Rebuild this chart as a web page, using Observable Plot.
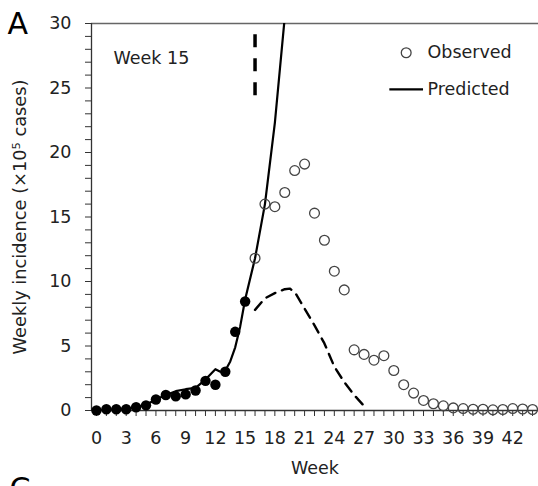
<!DOCTYPE html>
<html>
<head>
<meta charset="utf-8">
<script src="https://cdn.jsdelivr.net/npm/d3@7"></script>
<script src="https://cdn.jsdelivr.net/npm/@observablehq/plot@0.6"></script>
<style>
  html, body { margin: 0; padding: 0; background: #fff; }
  #chart { width: 538px; height: 486px; overflow: hidden; }
</style>
</head>
<body>
<div id="chart"></div>
<script>
// Observed weekly incidence (x10^5 cases) used for fitting: weeks 0-15
const fitWeeks = [0, 1, 2, 3, 4, 5, 6, 7, 8, 9, 10, 11, 12, 13, 14, 15];
const fitCases = [0.0, 0.1, 0.1, 0.1, 0.25, 0.4, 0.85, 1.2, 1.1, 1.25, 1.55, 2.3, 2.0, 3.0, 6.1, 8.45];

// Observed weekly incidence after the fitting window: weeks 16-44
const laterWeeks = [16, 17, 18, 19, 20, 21, 22, 23, 24, 25, 26, 27, 28, 29, 30,
  31, 32, 33, 34, 35, 36, 37, 38, 39, 40, 41, 42, 43, 44];
const laterCases = [11.8, 16.0, 15.8, 16.9, 18.6, 19.1, 15.3, 13.2, 10.8, 9.35, 4.7, 4.35, 3.9, 4.25, 3.1,
  2.0, 1.35, 0.78, 0.52, 0.36, 0.2, 0.15, 0.1, 0.1, 0.05, 0.08, 0.15, 0.12, 0.08];

// Model prediction, fitted curve (solid)
const fitLineWeeks = [0, 1, 2, 3, 4, 5, 6, 7, 8, 9, 10, 11, 12, 12.5, 13, 13.5, 14, 14.5, 15, 16, 17, 18, 19];
const fitLineCases = [0.0, 0.05, 0.1, 0.15, 0.25, 0.45, 0.85, 1.2, 1.5, 1.65, 1.75, 2.4, 3.2, 3.0, 3.1, 3.8, 4.9, 6.5, 8.6, 11.8, 16.0, 22.3, 30.5];

// Model prediction, forecast curve (dashed)
const forecastWeeks = [16, 17, 18, 19, 19.5, 20, 21, 22, 23, 24, 25, 26, 27, 27.2];
const forecastCases = [7.8, 8.7, 9.1, 9.4, 9.45, 9.2, 7.9, 6.6, 5.2, 3.4, 2.2, 1.2, 0.35, 0.15];

// Week at which the forecast is made, and its marker span on the y scale
const cutWeek = 16;
const cutSpan = [24.4, 29.6];

// Axis ticks
const xTicks = d3.range(0, 45);
const yTicks = d3.range(0, 31);

// Legend entries
const legendSymbolX = 31.25;
const legendLine = [29.6, 33.0];
const legendTextX = 33.4;
const legendY = [27.73, 24.9];
const legendLabels = ["Observed", "Predicted"];

const fit = fitWeeks.map((w, i) => ({week: w, cases: fitCases[i]}));
const later = laterWeeks.map((w, i) => ({week: w, cases: laterCases[i]}));
const fitLine = fitLineWeeks.map((w, i) => ({week: w, cases: fitLineCases[i]}));
const forecast = forecastWeeks.map((w, i) => ({week: w, cases: forecastCases[i]}));

const font = "DejaVu Sans, sans-serif";
const ink = "#222";

const chart = Plot.plot({
  width: 538,
  height: 486,
  marginLeft: 91,
  marginRight: 0,
  marginTop: 23,
  marginBottom: 76,
  style: {fontFamily: font, fontSize: "17.5px", color: ink, background: "#fff"},
  x: {domain: [-0.5, 44.6]},
  y: {domain: [0, 30]},
  marks: [
    // top border of the plotting area
    Plot.ruleY([30], {stroke: "#666", strokeWidth: 1.6}),
    Plot.axisY({
      ticks: yTicks, tickSize: 6, tickPadding: 14, stroke: "#333",
      tickFormat: d => d % 5 === 0 ? String(d) : "",
      label: null, fill: ink
    }),
    Plot.axisX({
      ticks: xTicks, tickSize: 6, tickPadding: 15, stroke: "#333",
      tickFormat: d => d % 3 === 0 ? String(d) : "",
      label: null, fill: ink
    }),
    Plot.ruleX([-0.5], {stroke: "#333", strokeWidth: 1.3}),
    Plot.ruleY([0], {stroke: "#333", strokeWidth: 1.3}),
    // axis titles
    Plot.text(["Week"], {frameAnchor: "bottom", dy: 63, fill: ink, fontSize: 17.5}),
    Plot.text(["Weekly incidence (\u00d710\u2075 cases)"], {
      frameAnchor: "left", textAnchor: "middle", rotate: -90, dx: -71, dy: 0, fill: ink, fontSize: 17.8
    }),
    // panel letters
    Plot.text(["A"], {frameAnchor: "top-left", textAnchor: "start", lineAnchor: "top", dx: -84, dy: -11, fill: "#000", fontSize: 30}),
    Plot.text(["C"], {frameAnchor: "bottom-left", textAnchor: "start", lineAnchor: "top", dx: -82, dy: 67, fill: "#000", fontSize: 30}),
    Plot.text(["Week 15"], {x: 1.72, y: 27.3, textAnchor: "start", fill: ink}),
    // forecast marker
    Plot.ruleX([cutWeek], {y1: cutSpan[0], y2: cutSpan[1], stroke: "#000", strokeWidth: 3.5, strokeDasharray: "13,11"}),
    // model curves
    Plot.line(forecast, {x: "week", y: "cases", stroke: "#000", strokeWidth: 2.4, strokeDasharray: "10,7", clip: true}),
    Plot.line(fitLine, {x: "week", y: "cases", stroke: "#000", strokeWidth: 2.2, clip: true}),
    // observations
    Plot.dot(later, {x: "week", y: "cases", r: 4.9, stroke: "#444", strokeWidth: 1.3, fill: "none"}),
    Plot.dot(fit, {x: "week", y: "cases", r: 5.2, fill: "#000", stroke: "none"}),
    // legend
    Plot.dot([legendLabels[0]], {x: legendSymbolX, y: legendY[0], r: 4.9, stroke: "#444", strokeWidth: 1.3, fill: "none"}),
    Plot.ruleY([legendY[1]], {x1: legendLine[0], x2: legendLine[1], stroke: "#000", strokeWidth: 2.2}),
    Plot.text(legendLabels, {x: legendTextX, y: (d, i) => legendY[i], textAnchor: "start", fill: ink})
  ]
});

document.getElementById("chart").appendChild(chart);
</script>
</body>
</html>
